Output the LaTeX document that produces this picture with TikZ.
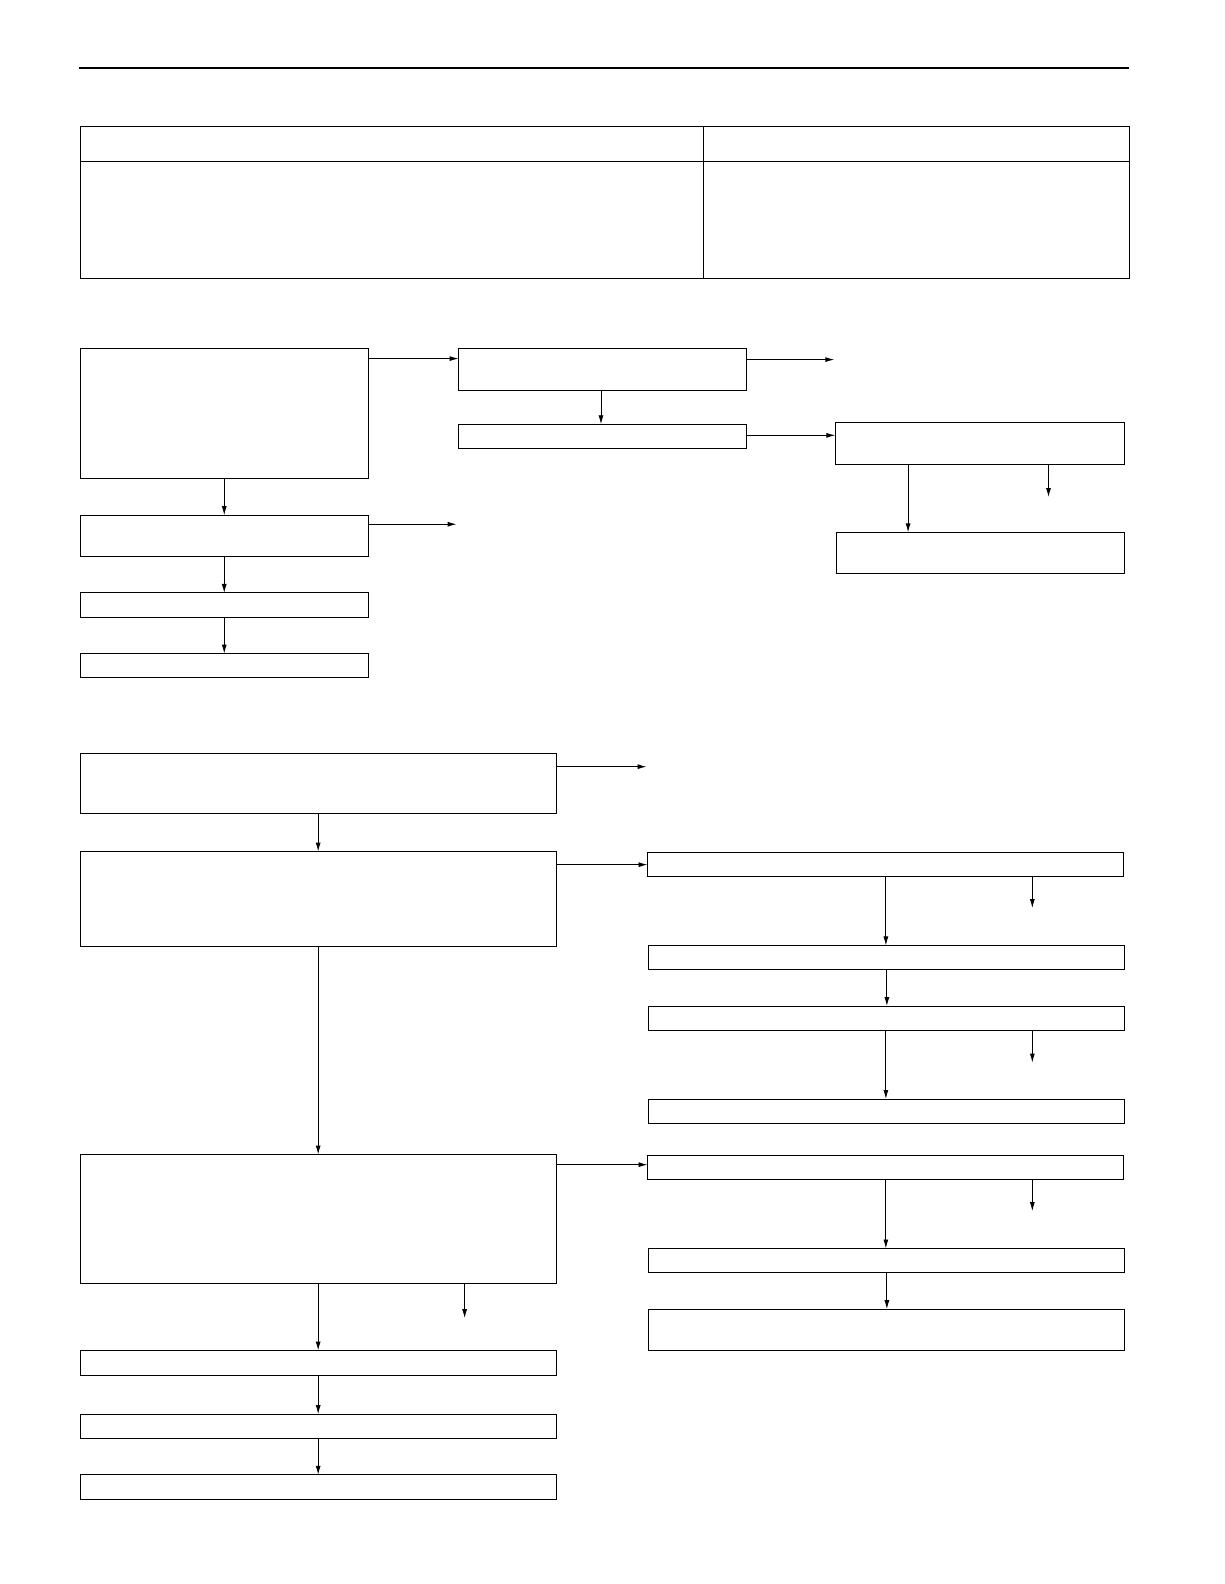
\documentclass[tikz,border=0pt]{standalone}
\usetikzlibrary{arrows.meta}
\begin{document}
\begin{tikzpicture}[x=1bp,y=-1bp,
 bx/.style={draw,line width=0.9pt},
 ar/.style={draw,line width=0.9pt,-{Latex[length=9pt,width=5pt]}}]
\useasboundingbox (0,0) rectangle (1224,1584);
\begin{scope}[scale=1.0101]
\draw[line width=2pt] (78,67) -- (1118,67);
\draw[bx] (80,125) rectangle (1118,276);
\draw[bx] (696,125) -- (696,276);
\draw[bx] (80,160) -- (1118,160);
\newcommand\bxx[5]{\path[bx] (#2,#3) rectangle (#4,#5); \coordinate (#1nw) at (#2,#3); \coordinate (#1se) at (#4,#5);}
\bxx{A}{80}{345}{365}{474}
\bxx{B}{454}{345}{739}{387}
\bxx{C}{454}{420}{739}{444}
\bxx{D}{827}{418}{1113}{460}
\bxx{E}{828}{527}{1113}{568}
\bxx{F}{80}{510}{365}{551}
\bxx{G}{80}{587}{365}{611}
\bxx{H}{80}{647}{365}{671}
\bxx{I}{80}{746}{551}{805}
\bxx{J}{80}{843}{551}{937}
\bxx{K}{641}{844}{1112}{868}
\bxx{L}{642}{936}{1113}{960}
\bxx{M}{642}{996}{1113}{1020}
\bxx{N}{642}{1088}{1113}{1112}
\bxx{P}{80}{1143}{551}{1271}
\bxx{Q}{641}{1144}{1112}{1168}
\bxx{R}{642}{1236}{1113}{1260}
\bxx{S}{642}{1296}{1113}{1337}
\bxx{T}{80}{1337}{551}{1362}
\bxx{U}{80}{1400}{551}{1424}
\bxx{V}{80}{1460}{551}{1484}
\draw[ar] (365,355) -- (454,355);
\draw[ar] (739,356) -- (826,356);
\draw[ar] (595,387) -- (595,420);
\draw[ar] (739,431) -- (827,431);
\draw[ar] (899,460) -- (899,527);
\draw[ar] (1038,460) -- (1038,492);
\draw[ar] (222,474) -- (222,510);
\draw[ar] (365,519) -- (452,519);
\draw[ar] (222,551) -- (222,587);
\draw[ar] (222,611) -- (222,647);
\draw[ar] (551,759) -- (640,759);
\draw[ar] (315,805) -- (315,843);
\draw[ar] (551,856) -- (641,856);
\draw[ar] (877,868) -- (877,936);
\draw[ar] (1022,868) -- (1022,899);
\draw[ar] (878,960) -- (878,996);
\draw[ar] (877,1020) -- (877,1088);
\draw[ar] (1022,1020) -- (1022,1052);
\draw[ar] (315,937) -- (315,1143);
\draw[ar] (551,1153) -- (641,1153);
\draw[ar] (877,1168) -- (877,1236);
\draw[ar] (1022,1168) -- (1022,1199);
\draw[ar] (878,1260) -- (878,1296);
\draw[ar] (315,1271) -- (315,1337);
\draw[ar] (460,1271) -- (460,1305);
\draw[ar] (315,1362) -- (315,1400);
\draw[ar] (315,1424) -- (315,1460);
\end{scope}
\end{tikzpicture}
\end{document}
